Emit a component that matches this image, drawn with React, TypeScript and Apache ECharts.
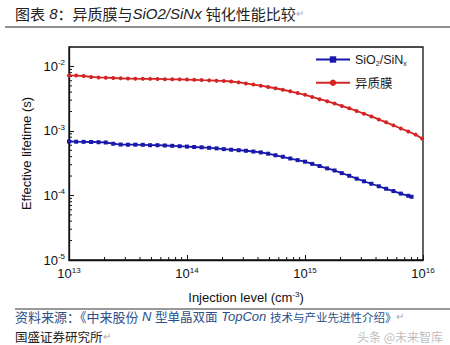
import React, { useEffect, useRef } from "react";
import * as echarts from "echarts";

// Injection level (cm^-3) for each series
const injectionSiNx = [
  1.0e13, 1.15e13, 1.33e13, 1.54e13, 1.78e13, 2.05e13, 2.37e13, 2.74e13, 3.16e13, 3.65e13, 4.22e13, 4.87e13, 5.62e13, 6.49e13, 7.5e13, 8.66e13,
  1.0e14, 1.15e14, 1.33e14, 1.54e14, 1.78e14, 2.05e14, 2.37e14, 2.74e14, 3.16e14, 3.65e14, 4.22e14, 4.87e14, 5.62e14, 6.49e14, 7.5e14, 8.66e14,
  1.0e15, 1.15e15, 1.33e15, 1.54e15, 1.78e15, 2.05e15, 2.37e15, 2.74e15, 3.16e15, 3.65e15, 4.22e15, 4.87e15, 5.62e15, 6.49e15, 7.5e15, 8.0e15,
];
// Effective lifetime (s) of SiO2/SiNx
const lifetimeSiNx = [
  6.86e-4, 6.81e-4, 6.78e-4, 6.74e-4, 6.69e-4, 6.62e-4, 6.34e-4, 6.16e-4, 6.12e-4, 6.12e-4, 6.1e-4, 6.01e-4, 6.01e-4, 5.95e-4, 5.88e-4, 5.8e-4,
  5.72e-4, 5.64e-4, 5.58e-4, 5.48e-4, 5.37e-4, 5.23e-4, 5.12e-4, 5.03e-4, 4.93e-4, 4.8e-4, 4.65e-4, 4.44e-4, 4.2e-4, 3.98e-4, 3.74e-4, 3.53e-4,
  3.34e-4, 3.09e-4, 2.86e-4, 2.63e-4, 2.44e-4, 2.22e-4, 2.02e-4, 1.82e-4, 1.66e-4, 1.52e-4, 1.39e-4, 1.27e-4, 1.17e-4, 1.07e-4, 9.89e-5, 9.55e-5,
];

const injectionHetero = [
  1.0e13, 1.15e13, 1.33e13, 1.54e13, 1.78e13, 2.05e13, 2.37e13, 2.74e13, 3.16e13, 3.65e13, 4.22e13, 4.87e13, 5.62e13, 6.49e13, 7.5e13, 8.66e13,
  1.0e14, 1.15e14, 1.33e14, 1.54e14, 1.78e14, 2.05e14, 2.37e14, 2.74e14, 3.16e14, 3.65e14, 4.22e14, 4.87e14, 5.62e14, 6.49e14, 7.5e14, 8.66e14,
  1.0e15, 1.15e15, 1.33e15, 1.54e15, 1.78e15, 2.05e15, 2.37e15, 2.74e15, 3.16e15, 3.65e15, 4.22e15, 4.87e15, 5.62e15, 6.49e15, 7.5e15, 8.66e15, 9.8e15,
];
// Effective lifetime (s) of heterojunction film (异质膜)
const lifetimeHetero = [
  7.26e-3, 7.21e-3, 7.11e-3, 6.88e-3, 6.76e-3, 6.69e-3, 6.62e-3, 6.55e-3, 6.48e-3, 6.45e-3, 6.43e-3, 6.41e-3, 6.39e-3, 6.34e-3, 6.32e-3, 6.3e-3,
  6.25e-3, 6.21e-3, 6.14e-3, 6.08e-3, 6.01e-3, 5.95e-3, 5.84e-3, 5.66e-3, 5.44e-3, 5.23e-3, 5.03e-3, 4.8e-3, 4.59e-3, 4.35e-3, 4.11e-3, 3.87e-3,
  3.63e-3, 3.37e-3, 3.11e-3, 2.89e-3, 2.66e-3, 2.44e-3, 2.24e-3, 2.04e-3, 1.85e-3, 1.68e-3, 1.51e-3, 1.36e-3, 1.22e-3, 1.09e-3, 9.82e-4, 8.77e-4, 7.63e-4,
];

const seriesNames = ["SiO2/SiNx", "异质膜"];
const xMin = 1e13;
const xMax = 1e16;
const yMin = 1e-5;
const yMax = 0.02;

const titleText = "{n|图表}{s| }{i|8}{n|：异质膜与}{i|SiO2/SiNx}{s| }{n|钝化性能比较}{g|↵}";
const sourceLine1 = "{a|资料来源：《中来股份}{i| N }{c|型单晶双面}{i| TopCon }{d|技术与产业先进性介绍》}{g|↵}";
const sourceLine2 = "{a|国盛证券研究所}{g|↵}";
const watermark = "头条 @未来智库";

const LATIN = "'Liberation Sans', Arial, sans-serif";
const CJK = "'Noto Sans CJK SC', 'Liberation Sans', sans-serif";

export default function App() {
  const ref = useRef<HTMLDivElement>(null);
  useEffect(() => {
    if (!ref.current) return;
    const chart = echarts.init(ref.current, undefined, { renderer: "svg" });

    // minor tick positions (decoration for log axes)
    const xMinor: number[][] = [];
    for (let d = 13; d < 16; d++) for (let m = 2; m <= 9; m++) xMinor.push([m * Math.pow(10, d), yMin]);
    const yMinor: number[][] = [];
    for (let d = -5; d < -1; d++) for (let m = 2; m <= 9; m++) {
      const v = m * Math.pow(10, d);
      if (v < yMax) yMinor.push([xMin, v]);
    }

    const supLabel = (v: number) => {
      const e = Math.round(Math.log10(v));
      return "{b|10}{s|" + e + "}";
    };
    const richSup = {
      b: { fontSize: 13, fontFamily: LATIN, color: "#111" },
      s: { fontSize: 8, fontFamily: LATIN, color: "#111", padding: [0, 0, 7, 0] },
    };

    chart.setOption({
      animation: false,
      backgroundColor: "#fff",
      grid: { left: 69, right: 27, top: 47, bottom: 85, show: true, borderColor: "#111", borderWidth: 1.3, backgroundColor: "transparent" },
      legend: {
        data: seriesNames,
        orient: "vertical",
        left: 310,
        top: 48,
        itemWidth: 34,
        itemHeight: 8,
        itemGap: 10,
        textStyle: {
          fontSize: 12.5,
          fontFamily: CJK,
          color: "#222",
          rich: {
            sub: { fontSize: 7, fontFamily: LATIN, color: "#222", padding: [7, 0, 0, 0] },
            n: { fontSize: 12.5, fontFamily: LATIN, color: "#222" },
          },
        },
        formatter: (name: string) => (name === "SiO2/SiNx" ? "{n|SiO}{sub|2}{n|/SiN}{sub|x}" : name),
      },
      xAxis: {
        type: "log",
        logBase: 10,
        min: xMin,
        max: xMax,
        name: "{t|Injection level (cm}{s|-3}{t|)}",
        nameLocation: "middle",
        nameGap: 30,
        nameTextStyle: {
          rich: {
            t: { fontSize: 13, fontFamily: LATIN, color: "#111" },
            s: { fontSize: 8, fontFamily: LATIN, color: "#111", padding: [0, 0, 7, 0] },
          },
        },
        axisLine: { lineStyle: { color: "#111", width: 1.3 } },
        axisTick: { inside: true, length: 5, lineStyle: { color: "#111" } },
        axisLabel: { margin: 6, formatter: supLabel, rich: richSup },
        splitLine: { show: false },
      },
      yAxis: {
        type: "log",
        logBase: 10,
        min: yMin,
        max: yMax,
        name: "Effective lifetime (s)",
        nameLocation: "middle",
        nameGap: 36,
        nameTextStyle: { fontSize: 13, fontFamily: LATIN, color: "#111" },
        axisLine: { lineStyle: { color: "#111", width: 1.3 } },
        axisTick: { inside: true, length: 5, lineStyle: { color: "#111" } },
        axisLabel: { margin: 4, showMaxLabel: false, formatter: supLabel, rich: richSup },
        splitLine: { show: false },
      },
      series: [
        {
          name: seriesNames[0],
          type: "line",
          data: injectionSiNx.map((x, i) => [x, lifetimeSiNx[i]]),
          symbol: "rect",
          symbolSize: 4,
          lineStyle: { color: "#1818aa", width: 1.8 },
          itemStyle: { color: "#1818aa" },
        },
        {
          name: seriesNames[1],
          type: "line",
          data: injectionHetero.map((x, i) => [x, lifetimeHetero[i]]),
          symbol: "circle",
          symbolSize: 4,
          lineStyle: { color: "#d42424", width: 1.8 },
          itemStyle: { color: "#d42424" },
        },
        {
          type: "custom",
          silent: true,
          data: xMinor,
          renderItem: (_p: any, api: any) => {
            const pt = api.coord([api.value(0), api.value(1)]);
            return { type: "line", shape: { x1: pt[0], y1: pt[1], x2: pt[0], y2: pt[1] - 3 }, style: { stroke: "#111", lineWidth: 1 } };
          },
        },
        {
          type: "custom",
          silent: true,
          data: yMinor,
          renderItem: (_p: any, api: any) => {
            const pt = api.coord([api.value(0), api.value(1)]);
            return { type: "line", shape: { x1: pt[0], y1: pt[1], x2: pt[0] + 3, y2: pt[1] }, style: { stroke: "#111", lineWidth: 1 } };
          },
        },
      ],
      graphic: [
        {
          type: "text",
          left: 15,
          top: 6,
          style: {
            text: titleText,
            rich: {
              n: { fontSize: 15, fontFamily: CJK, fill: "#222" },
              s: { fontSize: 15, fontFamily: LATIN, fill: "#222" },
              i: { fontSize: 15, fontFamily: LATIN, fontStyle: "italic", fill: "#222" },
              g: { fontSize: 10, fontFamily: LATIN, fill: "#aaa" },
            },
          },
        },
        { type: "line", shape: { x1: 5, y1: 27, x2: 450, y2: 27 }, style: { stroke: "#222", lineWidth: 1 } },
        { type: "line", shape: { x1: 15, y1: 309, x2: 450, y2: 309 }, style: { stroke: "#333", lineWidth: 1 } },
        {
          type: "text",
          left: 15,
          top: 310,
          style: {
            text: sourceLine1,
            rich: {
              a: { fontSize: 13, fontFamily: CJK, fill: "#2a4f8a", lineHeight: 15 },
              c: { fontSize: 12.5, fontFamily: CJK, fill: "#2a4f8a", lineHeight: 15 },
              d: { fontSize: 11.5, fontFamily: CJK, fill: "#2a4f8a", lineHeight: 15 },
              i: { fontSize: 13, fontFamily: LATIN, fontStyle: "italic", fill: "#2a4f8a", lineHeight: 15 },
              g: { fontSize: 10, fontFamily: LATIN, fill: "#aaa", lineHeight: 15 },
            },
          },
        },
        {
          type: "text",
          left: 15,
          top: 330,
          style: {
            text: sourceLine2,
            rich: {
              a: { fontSize: 12.5, fontFamily: CJK, fill: "#222", lineHeight: 13 },
              g: { fontSize: 10, fontFamily: LATIN, fill: "#aaa", lineHeight: 13 },
            },
          },
        },
        {
          type: "text",
          left: 357,
          top: 329,
          style: { text: watermark, fontSize: 12, lineHeight: 14, fontFamily: CJK, fill: "rgba(120,120,120,0.5)" },
        },
      ],
    });
    return () => chart.dispose();
  }, []);
  return <div ref={ref} style={{ position: "fixed", left: 0, top: 0, width: 450, height: 345 }} />;
}
